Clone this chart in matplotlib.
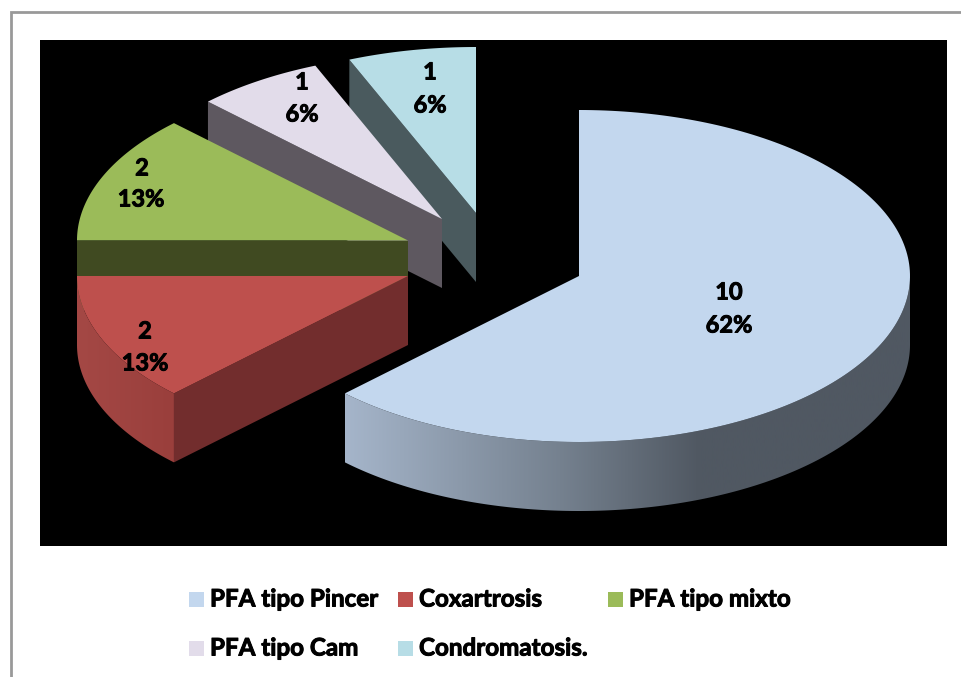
import numpy as np
import matplotlib
matplotlib.use('Agg')
import matplotlib.pyplot as plt
import matplotlib.patheffects as pe
from matplotlib.colors import LinearSegmentedColormap
from matplotlib.patches import Polygon, Rectangle

# --- DATA ---
categories = ['PFA tipo Pincer', 'Coxartrosis', 'PFA tipo mixto', 'PFA tipo Cam', 'Condromatosis.']
values = [10, 2, 2, 1, 1]
percents = ['62%', '13%', '13%', '6%', '6%']

# --- LOOK ---
top_colors = ['#c3d7ee', '#be504d', '#9bbb59', '#e2dcea', '#b7dde6']
side_colors = ['#4f5761', '#722d2d', '#404a21', '#5e5860', '#4a5a5e']
wall_stops = {
    0: [(345, '#a5b5ca'), (560, '#75818f'), (700, '#505862'), (910, '#505862')],
    1: [(77, '#a44845'), (174, '#9a3f3c')],
}
centers = [(579, 276), (408, 276), (408, 240.5), (442, 219), (476, 213)]
label_xy = [(729, 292), (145, 331), (142, 168), (302, 82), (430, 72)]
pct_xy = [(729, 325), (145, 363), (141, 199), (302, 114), (430, 105)]
legend_xy = [(189, 599), (398, 599), (608, 599), (189, 648), (398, 648)]
rx, ry, depth = 331, 166, 69

plt.rcParams['font.family'] = ['Lato', 'DejaVu Sans']
bolder = [pe.withStroke(linewidth=0.7, foreground='black')]

fig = plt.figure(figsize=(9.62, 6.77), dpi=100)
ax = fig.add_axes([0, 0, 1, 1])
ax.axis('off')

ax.add_patch(Rectangle((40, 40), 907, 506, color='black', lw=0, zorder=1))
ax.plot([11, 11, 962], [677, 12, 12], color='#999999', lw=2, zorder=1, solid_joinstyle='miter')


def arc(cx, cy, a0, a1, drop=0):
    t = np.radians(np.linspace(a0, a1, 200))
    return np.column_stack([cx + rx * np.sin(t), cy - ry * np.cos(t) + drop])


def point(cx, cy, a, drop=0):
    return arc(cx, cy, a, a, drop)[0]


edges = np.cumsum([0] + values) / sum(values) * 360
z = 2
# back to front, the big slice goes last
for i in reversed(range(len(values))):
    a0, a1 = edges[i], edges[i + 1]
    cx, cy = centers[i]

    # cut face, only the ones turned to the viewer
    if a0 >= 180:
        p = point(cx, cy, a0)
        ax.add_patch(Polygon([p, (cx, cy), (cx, cy + depth), p + (0, depth)],
                             color=side_colors[i], lw=0, zorder=z))
        z += 1

    # curved wall, lower half of the ellipse only
    lo, hi = max(a0, 90), min(a1, 270)
    if lo < hi:
        upper = arc(cx, cy, lo, hi)
        lower = arc(cx, cy, lo, hi, depth)[::-1]
        wall = Polygon(np.vstack([upper, lower]), closed=True, fc='none', lw=0, zorder=z)
        ax.add_patch(wall)
        stops = wall_stops[i]
        x0, x1 = stops[0][0], stops[-1][0]
        cmap = LinearSegmentedColormap.from_list(
            'wall', [((x - x0) / (x1 - x0), c) for x, c in stops])
        im = ax.imshow(np.linspace(0, 1, 256)[None, :], cmap=cmap, aspect='auto',
                       extent=(x0, x1, 677, 0), zorder=z)
        im.set_clip_path(wall)
        z += 1

    top = np.vstack([[(cx, cy)], arc(cx, cy, a0, a1)])
    ax.add_patch(Polygon(top, closed=True, color=top_colors[i], lw=0, zorder=z))
    z += 1

for i in range(len(values)):
    ax.text(*label_xy[i], str(values[i]), fontsize=17, fontweight='bold', color='black',
            ha='center', va='center', zorder=50, path_effects=bolder)
    ax.text(*pct_xy[i], percents[i], fontsize=17, fontweight='bold', color='black',
            ha='center', va='center', zorder=50, path_effects=bolder)

    lx, ly = legend_xy[i]
    ax.add_patch(Rectangle((lx, ly - 7.5), 15, 15, color=top_colors[i], lw=0, zorder=50))
    ax.text(lx + 21, ly, categories[i], fontsize=17.4, fontweight='bold', color='black',
            ha='left', va='center', zorder=50, path_effects=bolder)

ax.set_xlim(0, 962)
ax.set_ylim(677, 0)

fig.savefig('out.png', dpi=100, facecolor='white')
